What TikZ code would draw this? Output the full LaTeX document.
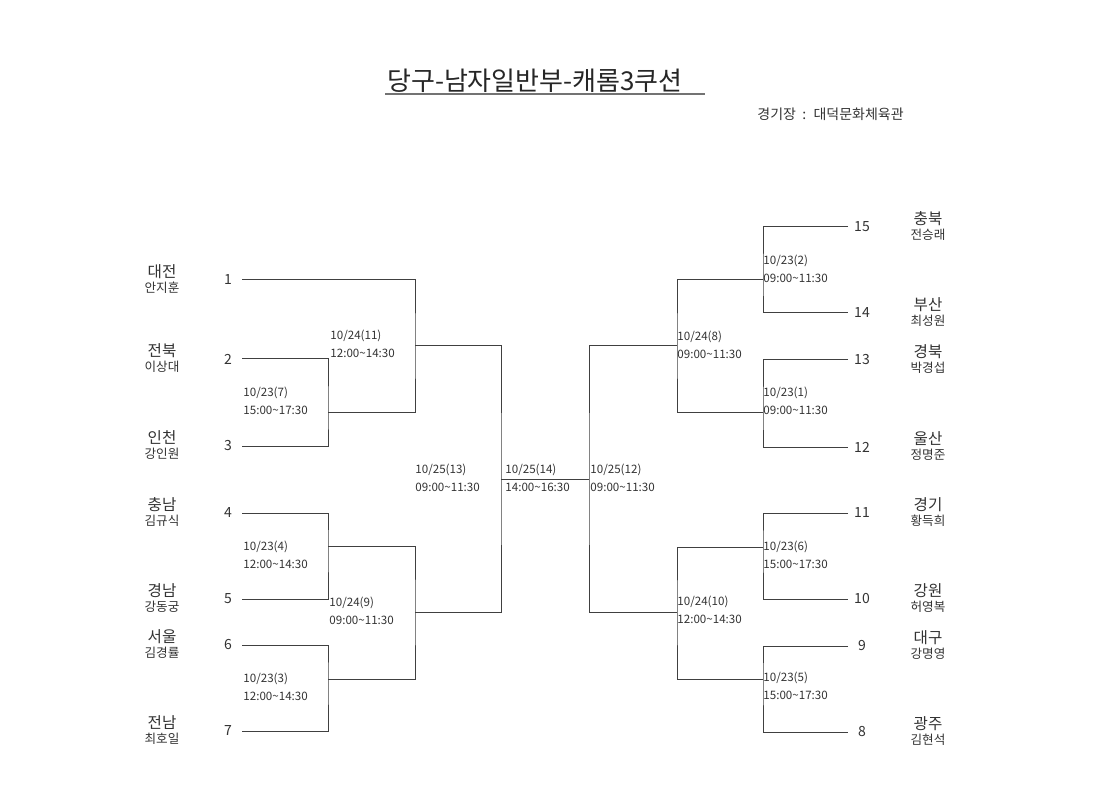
\documentclass[tikz,border=0pt]{standalone}
\usepackage{fontspec}
\setmainfont{Noto Sans CJK KR}
\begin{document}
\begin{tikzpicture}[x=0.5pt,y=-0.5pt,
  br/.style={draw=black!75,line width=0.5pt},
  num/.style={font=\fontsize{7}{8}\selectfont,text=black!80,inner sep=0},
  city/.style={font=\fontsize{7.8}{9}\selectfont,text=black!80,inner sep=0},
  pname/.style={font=\fontsize{6.3}{7}\selectfont,text=black!80,inner sep=0},
  dt/.style={font=\fontsize{5.8}{7}\selectfont,text=black!80,inner sep=0,anchor=west}]
\useasboundingbox (0,0) rectangle (1120,791);
\fill[white] (0,0) rectangle (1120,791);

% title
\node[font=\fontsize{13}{15}\selectfont,text=black!85,inner sep=0] (title) at (535,81) {당구-남자일반부-캐롬3쿠션};
\coordinate (ulA) at (385,94);
\coordinate (ulB) at (705,94);
\draw[draw=black!55,line width=0.6pt] (ulA) -- (ulB);
\node[font=\fontsize{7}{8}\selectfont,text=black!80,inner sep=0,anchor=west] (venue) at (757,114) {경기장 \ : \ 대덕문화체육관};

% left teams
\foreach \n/\y/\c/\p in {1/280/대전/안지훈, 2/359/전북/이상대, 3/446/인천/강인원, 4/513/충남/김규식, 5/599/경남/강동궁, 6/645/서울/김경률, 7/731/전남/최호일}{
  \node[num] (n\n) at (228,\y) {\n};
  \coordinate (a\n) at (242,\y);
  \node[city] (c\n) at (162,\y-8) {\c};
  \node[pname] (p\n) at (162,\y+8) {\p};
}
% right teams
\foreach \n/\y/\c/\p in {15/227/충북/전승래, 14/313/부산/최성원, 13/360/경북/박경섭, 12/447/울산/정명준, 11/513/경기/황득희, 10/599/강원/허영복, 9/646/대구/강명영, 8/732/광주/김현석}{
  \node[num] (n\n) at (862,\y) {\n};
  \coordinate (a\n) at (848,\y);
  \node[city] (c\n) at (928,\y-8) {\c};
  \node[pname] (p\n) at (928,\y+8) {\p};
}

% match points
\coordinate (m7) at (328,413);
\coordinate (m11) at (415,346);
\coordinate (m4) at (328,546);
\coordinate (m3) at (328,679);
\coordinate (m9) at (415,612);
\coordinate (m13) at (501,479);
\coordinate (m12) at (589,479);
\coordinate (m8) at (677,346);
\coordinate (m10) at (677,612);
\coordinate (m2) at (763,280);
\coordinate (m1) at (763,413);
\coordinate (m6) at (763,547);
\coordinate (m5) at (763,679);

% left bracket
\draw[br] (a2) -| (m7) |- (a3);
\draw[br] (a1) -| (m11) |- (m7);
\draw[br] (a4) -| (m4) |- (a5);
\draw[br] (a6) -| (m3) |- (a7);
\draw[br] (m4) -| (m9) |- (m3);
\draw[br] (m11) -| (m13) |- (m9);
% final
\draw[br] (m13) -- (m12);
% right bracket
\draw[br] (m8) -| (m12) |- (m10);
\draw[br] (a15) -| (m2) |- (a14);
\draw[br] (a13) -| (m1) |- (a12);
\draw[br] (m2) -| (m8) |- (m1);
\draw[br] (a11) -| (m6) |- (a10);
\draw[br] (a9) -| (m5) |- (a8);
\draw[br] (m6) -| (m10) |- (m5);

% date labels
\foreach \x/\y/\d/\t/\k in {
  330/336/10\slash 24(11)/12:00\textasciitilde 14:30/g11,
  243/393/10\slash 23(7)/15:00\textasciitilde 17:30/g7,
  243/547/10\slash 23(4)/12:00\textasciitilde 14:30/g4,
  329/603/10\slash 24(9)/09:00\textasciitilde 11:30/g9,
  243/679/10\slash 23(3)/12:00\textasciitilde 14:30/g3,
  415/470/10\slash 25(13)/09:00\textasciitilde 11:30/g13,
  505/470/10\slash 25(14)/14:00\textasciitilde 16:30/g14,
  590/470/10\slash 25(12)/09:00\textasciitilde 11:30/g12,
  677/337/10\slash 24(8)/09:00\textasciitilde 11:30/g8,
  763/261/10\slash 23(2)/09:00\textasciitilde 11:30/g2,
  763/393/10\slash 23(1)/09:00\textasciitilde 11:30/g1,
  763/547/10\slash 23(6)/15:00\textasciitilde 17:30/g6,
  677/602/10\slash 24(10)/12:00\textasciitilde 14:30/g10,
  763/678/10\slash 23(5)/15:00\textasciitilde 17:30/g5}{
  \node[dt] (\k d) at (\x,\y) {\d};
  \node[dt] (\k t) at (\x,\y+17) {\t};
}
\end{tikzpicture}
\end{document}
